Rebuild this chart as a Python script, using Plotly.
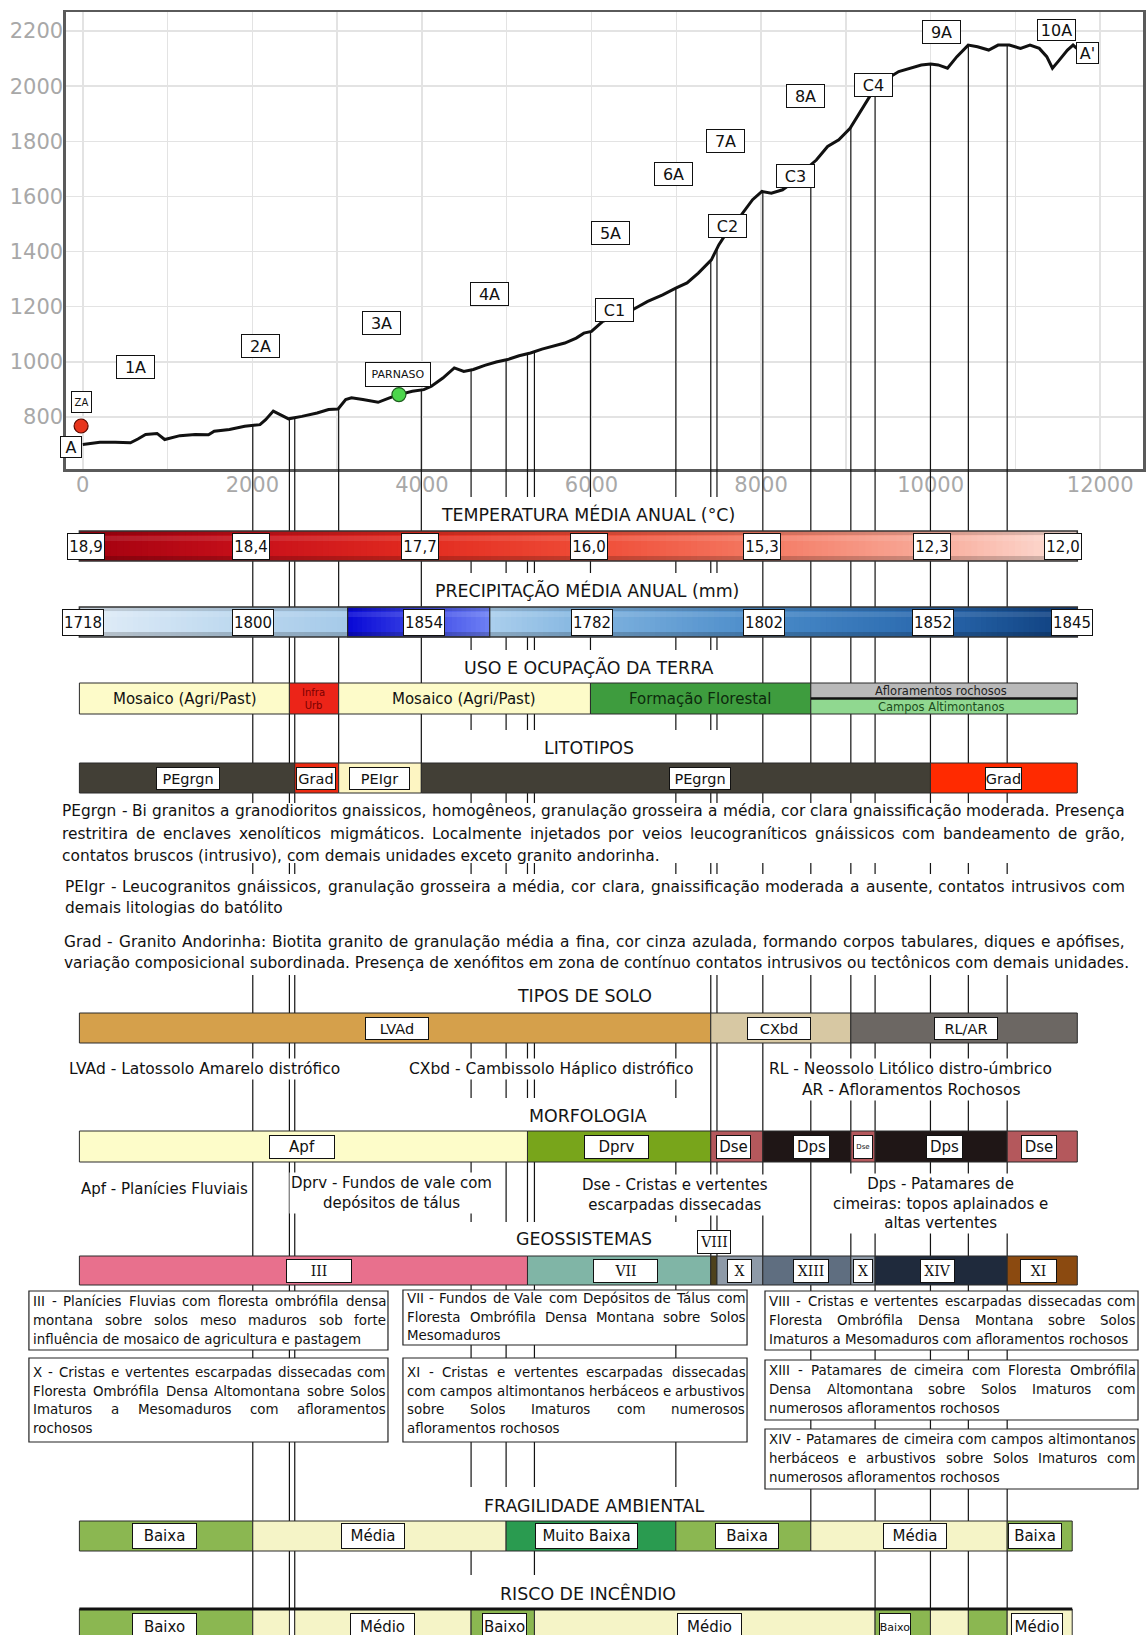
import unicodedata
import numpy as np
import plotly.graph_objects as go

W, H = 1146, 1635
FONT = "DejaVu Sans"
SERIF = "DejaVu Serif"

# ======================= DATA =======================
profile_x = [0, 100, 202, 382, 562, 650, 741, 876, 966, 1146, 1326, 1483, 1550, 1730, 1910, 2090,
             2157, 2247, 2337, 2427, 2584, 2764, 2899, 3011, 3101, 3169, 3303, 3483, 3618, 3730,
             3887, 4022, 4112, 4247, 4382, 4494, 4607, 4741, 4876, 5011, 5146, 5281, 5416, 5550,
             5685, 5820, 5910, 6000, 6133, 6309, 6486, 6663, 6840, 6994, 7127, 7260, 7414, 7503,
             7591, 7724, 7812, 7900, 8011, 8121, 8254, 8387, 8519, 8652, 8785, 8917, 9050, 9138,
             9227, 9293, 9359, 9492, 9624, 9757, 9890, 10000, 10089, 10199, 10310, 10443, 10553,
             10685, 10796, 10928, 11061, 11172, 11282, 11370, 11437, 11503, 11614, 11680, 11724]
profile_y = [700, 705, 708, 708, 706, 720, 736, 740, 718, 732, 736, 735, 748, 754, 766, 772,
             790, 821, 808, 793, 802, 814, 827, 829, 863, 869, 863, 853, 869, 881,
             893, 899, 911, 941, 978, 965, 972, 987, 999, 1008, 1022, 1032, 1046, 1056,
             1068, 1086, 1104, 1110, 1147, 1165, 1189, 1219, 1243, 1267, 1286, 1322, 1370, 1425,
             1467, 1515, 1551, 1588, 1618, 1612, 1624, 1654, 1696, 1732, 1781, 1805, 1847, 1890,
             1938, 1968, 1992, 2028, 2053, 2065, 2077, 2080, 2077, 2065, 2107, 2149, 2143,
             2131, 2149, 2149, 2137, 2149, 2137, 2107, 2065, 2089, 2131, 2149, 2137]

point_labels = ["A", "ZA", "1A", "2A", "3A", "4A", "PARNASO", "5A", "C1", "6A", "7A", "C2",
                "C3", "8A", "C4", "9A", "10A", "A'"]
point_label_x = [-141, -12, 626, 2101, 3518, 4800, 3718, 6227, 6266, 6965, 7578, 7600,
                 8412, 8530, 9330, 10130, 11490, 11854]
point_label_y = [691, 854, 981, 1056, 1141, 1246, 954, 1466, 1188, 1681, 1801, 1491,
                 1674, 1964, 2004, 2195, 2203, 2119]

za_x, za_y = [-20], [767]
parnaso_x, parnaso_y = [3729], [881]

# transect section limits (distance, m)
section_x = [2005, 2437, 2500, 3018, 3993, 4580, 4993, 5245, 5327, 5988,
             6995, 7407, 7480, 8021, 8587, 9059, 9345, 9998, 10445, 10903]
T_START, T_END, T_END2 = -40, 11730, 11670
s = section_x

temp_labels = ["18,9", "18,4", "17,7", "16,0", "15,3", "12,3", "12,0"]
temp_label_x = [41, 1988, 3976, 5970, 8012, 10012, 11560]
precip_labels = ["1718", "1800", "1854", "1782", "1802", "1852", "1845"]
precip_label_x = [0, 2012, 4020, 6012, 8035, 10024, 11666]

uso_names = ["Mosaico (Agri/Past)", "Infra<br>Urb", "Mosaico (Agri/Past)", "Formação Florestal",
             "Afloramentos rochosos|Campos Altimontanos"]
uso_edges = [T_START, s[1], s[3], s[9], s[14], T_END]
uso_label_x = [1200, 2720, 4500, 7280, 10118]

lito_names = ["PEgrgn", "Grad", "PEIgr", "PEgrgn", "Grad"]
lito_edges = [T_START, s[2], s[3], s[4], s[17], T_END]
lito_label_x = [1240, 2750, 3500, 7280, 10860]

solo_names = ["LVAd", "CXbd", "RL/AR"]
solo_edges = [T_START, s[11], s[15], T_END]
solo_label_x = [3710, 8210, 10420]

morf_names = ["Apf", "Dprv", "Dse", "Dps", "Dse", "Dps", "Dse"]
morf_edges = [T_START, s[7], s[11], s[13], s[15], s[16], s[19], T_END]
morf_label_x = [2590, 6290, 7680, 8590, 9200, 10160, 11280]

geo_names = ["III", "VII", "VIII", "X", "XIII", "X", "XIV", "XI"]
geo_edges = [T_START, s[7], s[11], s[12], s[13], s[15], s[16], s[19], T_END]
geo_label_x = [2790, 6400, 7444, 7750, 8585, 9205, 10085, 11270]

frag_names = ["Baixa", "Média", "Muito Baixa", "Baixa", "Média", "Baixa"]
frag_edges = [T_START, s[0], s[6], s[10], s[14], s[19], T_END2]
frag_label_x = [959, 3426, 5947, 7840, 9816, 11235]

risco_names = ["Baixo", "", "Médio", "Baixo", "Médio", "Baixo", "", "", "Médio"]
risco_x0 = [T_START, s[0], s[2], s[5], s[8], s[16], s[17], s[18], s[19]]
risco_x1 = [s[0], s[1], s[5], s[8], s[16], s[17], s[18], s[19], T_END2]
risco_label_x = [959, None, 3530, 4975, 7394, 9576, None, None, 11259]

paragraphs = [
    ["PEgrgn - Bi granitos a granodioritos gnaissicos, homogêneos, granulação grosseira a média, cor clara gnaissificação moderada. Presença",
     "restritira de enclaves xenolíticos migmáticos. Localmente injetados por veios leucograníticos gnáissicos com bandeamento de grão,",
     "contatos bruscos (intrusivo), com demais unidades exceto granito andorinha."],
    ["PEIgr - Leucogranitos gnáissicos, granulação grosseira a média, cor clara, gnaissificação moderada a ausente, contatos intrusivos com",
     "demais litologias do batólito"],
    ["Grad - Granito Andorinha: Biotita granito de granulação média a fina, cor cinza azulada, formando corpos tabulares, diques e apófises,",
     "variação composicional subordinada. Presença de xenófitos em zona de contínuo contatos intrusivos ou tectônicos com demais unidades."],
]
solo_desc = ["LVAd - Latossolo Amarelo distrófico", "CXbd - Cambissolo Háplico distrófico",
             "RL - Neossolo Litólico distro-úmbrico", "AR - Afloramentos Rochosos"]
morf_desc = ["Apf - Planícies Fluviais", "Dprv - Fundos de vale com<br>depósitos de tálus",
             "Dse - Cristas e vertentes<br>escarpadas dissecadas",
             "Dps - Patamares de<br>cimeiras: topos aplainados e<br>altas vertentes"]
geo_desc = [
    ["III - Planícies Fluvias com floresta ombrófila densa", "montana sobre solos meso maduros sob forte",
     "influência de mosaico de agricultura e pastagem"],
    ["VII - Fundos de Vale com Depósitos de Tálus com", "Floresta Ombrófila Densa Montana sobre Solos",
     "Mesomaduros"],
    ["VIII - Cristas e vertentes escarpadas dissecadas com", "Floresta Ombrófila Densa Montana sobre Solos",
     "Imaturos a Mesomaduros com afloramentos rochosos"],
    ["X - Cristas e vertentes escarpadas dissecadas com", "Floresta Ombrófila Densa Altomontana sobre Solos",
     "Imaturos a Mesomaduros com afloramentos", "rochosos"],
    ["XI - Cristas e vertentes escarpadas dissecadas", "com campos altimontanos herbáceos e arbustivos",
     "sobre Solos Imaturos com numerosos", "afloramentos rochosos"],
    ["XIII - Patamares de cimeira com Floresta Ombrófila", "Densa Altomontana sobre Solos Imaturos com",
     "numerosos afloramentos rochosos"],
    ["XIV - Patamares de cimeira com campos altimontanos", "herbáceos e arbustivos sobre Solos Imaturos com",
     "numerosos afloramentos rochosos"],
]
titles = ["TEMPERATURA MÉDIA ANUAL (°C)", "PRECIPITAÇÃO MÉDIA ANUAL (mm)", "USO E OCUPAÇÃO DA TERRA",
          "LITOTIPOS", "TIPOS DE SOLO", "MORFOLOGIA", "GEOSSISTEMAS", "FRAGILIDADE AMBIENTAL",
          "RISCO DE INCÊNDIO"]

# ======================= LAYOUT / STYLE =======================
XR = [-200, 12505]
YR = [611, 2268]
PLOT_TOP, PLOT_BOT, PLOT_LEFT = 12.3, 469, 66

def py(Y):
    return 1 - Y / H

def pxp(X):
    return X / W

def hex2rgb(h):
    h = h.lstrip('#')
    return np.array([int(h[i:i + 2], 16) for i in (0, 2, 4)], dtype=float)

def interp_color(stops_x, stops_c, x):
    cs = np.array([hex2rgb(c) for c in stops_c])
    r = [np.interp(x, stops_x, cs[:, k]) for k in range(3)]
    return 'rgb(%d,%d,%d)' % tuple(int(round(v)) for v in r)

# approximate DejaVu Sans advance widths (1/1000 em) used for text justification
_ADV = {' ': 318, ',': 318, '.': 318, '-': 361, '(': 390, ')': 390, ':': 337, ';': 337, '/': 337, "'": 275}
_ADV.update({d: 636 for d in '0123456789'})
_ADV.update(dict(zip('ABCDEFGHIJKLMNOPQRSTUVWXYZ',
                     [684, 686, 698, 770, 632, 575, 775, 752, 295, 295, 656, 557, 863, 748, 787, 603, 787,
                      695, 635, 611, 732, 684, 989, 685, 611, 685])))
_ADV.update(dict(zip('abcdefghijklmnopqrstuvwxyz',
                     [613, 635, 550, 635, 615, 352, 635, 634, 278, 278, 579, 278, 974, 634, 612, 635, 635,
                      411, 521, 392, 634, 592, 818, 592, 592, 525])))

def text_w(t, size):
    tot = 0
    for ch in t:
        b = unicodedata.normalize('NFD', ch)[0]
        tot += _ADV.get(b, 600)
    return tot * size / 1000.0

drop_end = [1635, 1635, 1635, 780, 780, 1635, 1540, 1285, 1635, 700,
            1540, 1285, 1285, 1285, 1540, 1285, 1635, 1635, 1635, 1635]

bars = {  # (top, bottom) px
    "temp": (531, 561), "precip": (607, 637), "uso": (683, 714), "lito": (763, 793),
    "solo": (1013, 1043), "morf": (1131, 1162), "geo": (1256, 1285), "frag": (1521, 1551),
    "risco": (1609, 1645)}
title_pos = [(590, 514), (589, 591), (591, 667), (591, 748), (586, 996), (590, 1116),
             (586, 1239), (596, 1506), (590, 1593)]
covers = [(445, 745, 497, 531), (445, 745, 573, 607), (445, 745, 650, 683), (445, 745, 730, 763),
          (50, 1140, 803, 863), (50, 1140, 874, 975), (445, 700, 975, 1013), (445, 700, 1098, 1131),
          (445, 700, 1222, 1256), (445, 760, 1487, 1521), (445, 760, 1575, 1609)]

LINE = '#121212'
shapes = []
annotations = []

def text_ann(t, X, Y, size, xanchor='center', bg=None, color='#111', family=FONT):
    d = dict(text=t, x=pxp(X), y=py(Y), xref='paper', yref='paper', showarrow=False,
             xanchor=xanchor, yanchor='middle', font=dict(family=family, size=size, color=color))
    if bg:
        d['bgcolor'] = bg
    return d

def justified(t, L, R, Y, size):
    words = t.split()
    ws = [text_w(w, size) for w in words]
    gap = (R - L - sum(ws)) / max(len(words) - 1, 1)
    gap = max(gap, 0.2 * size)
    x = L
    for w, wd in zip(words, ws):
        annotations.append(text_ann(w, x, Y, size, xanchor='left'))
        x += wd + gap

# ---- drop lines below the profile plot ----
for x, ye in zip(section_x, drop_end):
    shapes.append(dict(type='line', xref='x', yref='paper', x0=x, x1=x, y0=py(PLOT_BOT), y1=py(ye),
                       line=dict(color=LINE, width=1.2)))
# ---- white covers behind titles / paragraphs ----
for xa, xb, ya, yb in covers:
    shapes.append(dict(type='rect', xref='paper', yref='paper', x0=pxp(xa), x1=pxp(xb), y0=py(yb), y1=py(ya),
                       fillcolor='white', line=dict(width=0)))

def rect(x0, x1, Ya, Yb, color, lw=1, lc='#2b2b2b'):
    return dict(type='rect', xref='x', yref='paper', x0=x0, x1=x1, y0=py(Yb), y1=py(Ya),
                fillcolor=color, line=dict(color=lc, width=lw))

def gradient(x0, x1, Ya, Yb, stops_x, stops_c, n):
    e = np.linspace(x0, x1, n + 1)
    step = e[1] - e[0]
    for a, b in zip(e[:-1], e[1:]):
        c = interp_color(stops_x, stops_c, (a + b) / 2)
        shapes.append(dict(type='rect', xref='x', yref='paper', x0=a, x1=min(b + step * 0.6, x1),
                           y0=py(Yb), y1=py(Ya), fillcolor=c, line=dict(width=0)))

def bevel(x0, x1, Ya, Yb):
    shapes.append(dict(type='rect', xref='x', yref='paper', x0=x0, x1=x1, y0=py(Ya + 4), y1=py(Ya),
                       fillcolor='rgba(0,0,0,0.13)', line=dict(width=0)))
    shapes.append(dict(type='rect', xref='x', yref='paper', x0=x0, x1=x1, y0=py(Yb), y1=py(Yb - 5),
                       fillcolor='rgba(0,0,0,0.18)', line=dict(width=0)))
    shapes.append(dict(type='rect', xref='x', yref='paper', x0=x0, x1=x1, y0=py(Ya + 10), y1=py(Ya + 5),
                       fillcolor='rgba(255,255,255,0.10)', line=dict(width=0)))

# ---- temperature ----
Ya, Yb = bars["temp"]
gradient(T_START, T_END, Ya, Yb, [T_START, 2000, 4000, 6000, 8000, 10000, T_END],
         ['#a2000f', '#c8101a', '#e22c20', '#ef4c37', '#f47962', '#f8aa99', '#fde1d9'], 160)
bevel(T_START, T_END, Ya, Yb)
shapes.append(rect(T_START, T_END, Ya, Yb, 'rgba(0,0,0,0)', lw=1.5, lc='#333'))
# ---- precipitation ----
Ya, Yb = bars["precip"]
dark0, dark1 = 3124, 4800
gradient(T_START, dark0, Ya, Yb, [T_START, 2000, dark0], ['#e3eef8', '#b9d6ee', '#a5cae9'], 50)
gradient(dark0, dark1, Ya, Yb, [dark0, dark1], ['#0808d6', '#6d80f4'], 30)
gradient(dark1, T_END, Ya, Yb, [dark1, 6000, 8000, 10000, T_END],
         ['#abcfed', '#80b3df', '#4a8bc9', '#2a69ae', '#0d3d7c'], 110)
bevel(T_START, T_END, Ya, Yb)
shapes.append(rect(dark0, dark1, Ya, Yb, 'rgba(0,0,0,0)', lw=1.2, lc='#222'))
shapes.append(rect(T_START, T_END, Ya, Yb, 'rgba(0,0,0,0)', lw=1.5, lc='#333'))

# ---- uso ----
Ya, Yb = bars["uso"]
uso_colors = ['#fdfbc9', '#ec2418', '#fdfbc9', '#3e9c3e', None]
for i, name in enumerate(uso_names):
    x0, x1 = uso_edges[i], uso_edges[i + 1]
    if uso_colors[i] is None:
        mid = (Ya + Yb) / 2
        shapes.append(rect(x0, x1, Ya, mid, '#b9b9b9'))
        shapes.append(rect(x0, x1, mid, Yb, '#90d890'))
        shapes.append(dict(type='line', xref='x', yref='paper', x0=x0, x1=x1, y0=py(mid), y1=py(mid),
                           line=dict(color='#111', width=2.5)))
        t1, t2 = name.split('|')
        annotations.append(dict(text=t1, x=uso_label_x[i], y=py(Ya + 7.5), xref='x', yref='paper',
                                xanchor='center', yanchor='middle',
                                showarrow=False, font=dict(family=FONT, size=11.5, color='#222')))
        annotations.append(dict(text=t2, x=uso_label_x[i], y=py(Yb - 7.5), xref='x', yref='paper',
                                xanchor='center', yanchor='middle',
                                showarrow=False, font=dict(family=FONT, size=11.5, color='#1c4d1c')))
    else:
        shapes.append(rect(x0, x1, Ya, Yb, uso_colors[i]))
        small = name.startswith('Infra')
        annotations.append(dict(text=name, x=uso_label_x[i], y=py((Ya + Yb) / 2), xref='x', yref='paper',
                                xanchor='center', yanchor='middle', showarrow=False,
                                font=dict(family=FONT, size=10 if small else 15,
                                          color='#7a0000' if small else ('#0d2a0d' if i == 3 else '#111'))))

# ---- generic categorical bars ----
def cat_bar(key, edges, colors):
    Ya, Yb = bars[key]
    for i in range(len(colors)):
        shapes.append(rect(edges[i], edges[i + 1], Ya, Yb, colors[i]))

cat_bar("lito", lito_edges, ['#423f36', '#ec2a12', '#fdf5c2', '#423f36', '#ff2a00'])
cat_bar("solo", solo_edges, ['#d5a04b', '#d7c8a3', '#6c6763'])
cat_bar("morf", morf_edges, ['#fdfcc9', '#78a51b', '#b4585c', '#1f1616', '#b4585c', '#1f1616', '#b4585c'])
cat_bar("geo", geo_edges, ['#e8708d', '#80b5a6', '#4e421c', '#8e9aa8', '#5f6e80', '#8e9aa8', '#1f2a3c', '#8b4a10'])
cat_bar("frag", frag_edges, ['#8bb751', '#f5f4c7', '#2a9b50', '#8bb751', '#f5f4c7', '#8bb751'])
Ya, Yb = bars["risco"]
risco_colors = ['#8bb751', '#f5f4c7', '#f5f4c7', '#8bb751', '#f5f4c7', '#8bb751', '#f5f4c7', '#8bb751', '#f5f4c7']
for i in range(len(risco_names)):
    shapes.append(rect(risco_x0[i], risco_x1[i], Ya, Yb, risco_colors[i]))
shapes.append(dict(type='line', xref='x', yref='paper', x0=T_START, x1=T_END2, y0=py(Ya), y1=py(Ya),
                   line=dict(color='#111', width=3)))

# ---- description boxes (geossistemas) ----
geo_boxes = [(29, 389, 1291, 1350), (404, 749, 1290, 1345), (767, 1141, 1291, 1350),
             (29, 389, 1358, 1442), (404, 749, 1358, 1442), (767, 1141, 1360, 1420), (767, 1141, 1429, 1489)]
geo_line_y = [[1301, 1320, 1339], [1298, 1317, 1335], [1301, 1320, 1339],
              [1372, 1391, 1409, 1428], [1372, 1391, 1409, 1428], [1370, 1389, 1408], [1439, 1458, 1477]]
GEO_FS = 13.4
for (xa, xb, ya, yb), lines, ys in zip(geo_boxes, geo_desc, geo_line_y):
    shapes.append(dict(type='rect', xref='paper', yref='paper', x0=pxp(xa), x1=pxp(xb), y0=py(yb), y1=py(ya),
                       fillcolor='white', line=dict(color='#222', width=1.2)))
    for k, (t, yy) in enumerate(zip(lines, ys)):
        if k < len(lines) - 1:
            justified(t, xa + 2, xb - 4, yy, GEO_FS)
        else:
            annotations.append(text_ann(t, xa + 2, yy, GEO_FS, xanchor='left'))

# ---- boxed labels ----
def boxlab(text, x, Y, w, h, size=15, family=FONT, xref='x', yref='paper'):
    return dict(text=text, x=x, y=py(Y) if yref == 'paper' else Y, xref=xref, yref=yref, showarrow=False,
                xanchor='center', yanchor='middle', width=w, height=h, bgcolor='white',
                bordercolor='#111', borderwidth=1, borderpad=0, font=dict(family=family, size=size, color='#111'))

for t, x in zip(temp_labels, temp_label_x):
    annotations.append(boxlab(t, x, 546, 36, 25, 15))
for t, x in zip(precip_labels, precip_label_x):
    annotations.append(boxlab(t, x, 622, 40, 25, 15))
lito_w = [62, 38, 59, 60, 35]
for t, x, w in zip(lito_names, lito_label_x, lito_w):
    annotations.append(boxlab(t, x, 778, w, 21, 14.5))
for t, x in zip(solo_names, solo_label_x):
    annotations.append(boxlab(t, x, 1028, 62, 21, 14.5))
morf_w = [64, 63, 33, 35, 18, 35, 34]
for t, x, w in zip(morf_names, morf_label_x, morf_w):
    annotations.append(boxlab(t, x, 1146.5, w, 22, 7 if w < 20 else 15))
geo_w = [64, 63, 32, 23, 34, 18, 33, 35]
for t, x, w in zip(geo_names, geo_label_x, geo_w):
    Yc = 1242 if t == "VIII" else 1270.5
    annotations.append(boxlab(t, x, Yc, w, 22, 14, family=SERIF))
frag_w = [63, 62, 101, 62, 62, 52]
for t, x, w in zip(frag_names, frag_label_x, frag_w):
    annotations.append(boxlab(t, x, 1536, w, 24, 15))
risco_w = [63, None, 63, 43, 63, 30, None, None, 50]
for t, x, w in zip(risco_names, risco_label_x, risco_w):
    if t:
        annotations.append(boxlab(t, x, 1627, w, 26, 11 if w < 40 else 15))

# ---- titles ----
for t, (xc, yc) in zip(titles, title_pos):
    annotations.append(text_ann(t, xc, yc, 17.4, color='#151515'))
# ---- paragraphs (justified) ----
para_y = [[811, 834, 856], [887, 908], [942, 963]]
para_x = [60, 63, 62]
PARA_FS, PARA_R = 15.4, 1126
for lines, ys, x in zip(paragraphs, para_y, para_x):
    for k, (t, y) in enumerate(zip(lines, ys)):
        if k < len(lines) - 1:
            justified(t, x, PARA_R, y, PARA_FS)
        else:
            annotations.append(text_ann(t, x, y, PARA_FS, xanchor='left'))
# ---- soil descriptions ----
solo_desc_pos = [(205, 1069), (553, 1069), (913, 1069), (914, 1090)]
for t, (xc, yc) in zip(solo_desc, solo_desc_pos):
    annotations.append(text_ann(t, xc, yc, 15.5, bg='white'))
# ---- morphology descriptions ----
morf_desc_pos = [(165, 1189), (393, 1193), (677, 1195), (943, 1203)]
for t, (xc, yc) in zip(morf_desc, morf_desc_pos):
    annotations.append(text_ann(t, xc, yc, 15, bg='white'))

# ---- profile point labels ----
pl_size = {"A": (20, 20, 16), "ZA": (19, 20, 10), "PARNASO": (64, 23, 11), "A'": (21, 20, 16), "10A": (37, 20, 16)}
for t, x, y in zip(point_labels, point_label_x, point_label_y):
    w, h, fs = pl_size.get(t, (37, 22, 16))
    annotations.append(boxlab(t, x, y, w, h, fs, xref='x', yref='y'))

# ======================= TRACES =======================
fig = go.Figure()
dx, dy = [], []
for x in section_x:
    yt = float(np.interp(x, profile_x, profile_y))
    dx += [x, x, None]
    dy += [yt, YR[0], None]
fig.add_trace(go.Scatter(x=dx, y=dy, mode='lines', line=dict(color=LINE, width=1.2), hoverinfo='skip',
                         showlegend=False))
fig.add_trace(go.Scatter(x=profile_x, y=profile_y, mode='lines', line=dict(color='#111', width=3),
                         showlegend=False))
fig.add_trace(go.Scatter(x=za_x, y=za_y, mode='markers', showlegend=False,
                         marker=dict(size=14, color='#e8341c', line=dict(color='#5a0a00', width=1.2))))
fig.add_trace(go.Scatter(x=parnaso_x, y=parnaso_y, mode='markers', showlegend=False,
                         marker=dict(size=14, color='#4cd64c', line=dict(color='#1e5e1e', width=1.2))))

grid = '#e3e3e3'
fig.update_layout(
    width=W, height=H, autosize=False, margin=dict(l=0, r=0, t=0, b=0),
    paper_bgcolor='white', plot_bgcolor='white', showlegend=False,
    xaxis=dict(range=XR, domain=[PLOT_LEFT / W, 1], dtick=2000, tick0=0, tickformat='d', showgrid=True,
               gridcolor=grid, gridwidth=1.5, minor=dict(dtick=1000, showgrid=True, gridcolor=grid, gridwidth=1.5),
               zeroline=False, showline=True, linecolor='#5a5a5a', linewidth=2.5, mirror=True, ticks='',
               ticklabelstandoff=-5,
               tickfont=dict(family=FONT, size=21, color='#a8a8a8'), fixedrange=True),
    yaxis=dict(range=YR, domain=[1 - PLOT_BOT / H, 1 - PLOT_TOP / H], dtick=200, tick0=0, tickformat='d',
               showgrid=True, gridcolor=grid, gridwidth=1.5, zeroline=False, showline=True, linecolor='#5a5a5a',
               linewidth=2.5, mirror=True, ticks='', ticklabelstandoff=-4,
               tickfont=dict(family=FONT, size=21, color='#a8a8a8'), fixedrange=True),
    shapes=shapes, annotations=annotations,
)

fig.write_html("out.html", include_plotlyjs=True, full_html=True,
               config=dict(displayModeBar=False, staticPlot=True),
               post_script="document.body.style.margin='0';document.body.style.overflow='hidden';")
